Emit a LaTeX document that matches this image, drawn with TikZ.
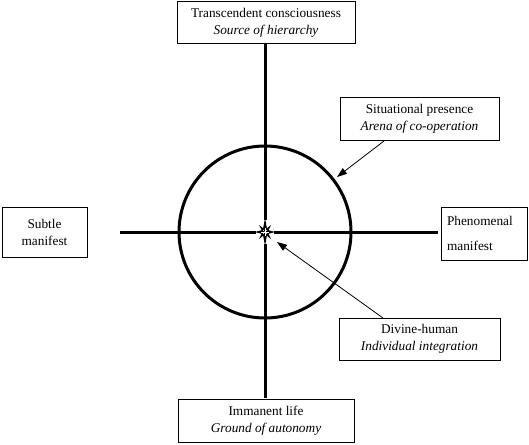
\documentclass[tikz,border=0pt]{standalone}
\usepackage{fontspec}
\setmainfont{Liberation Serif}
\usetikzlibrary{arrows.meta}
\begin{document}
\begin{tikzpicture}[x=1pt,y=-1pt,
  lbl/.style={draw,line width=1pt,inner sep=0pt,align=center,font=\fontsize{13.3}{17}\selectfont},
  axis/.style={line width=3pt},
  ptr/.style={line width=0.8pt,-{Triangle[length=10pt,width=7pt]}}]
\useasboundingbox (0,0) rectangle (529,444);
\fill[white] (0,0) rectangle (529,444);
\node[lbl,minimum width=178pt,minimum height=42pt] (top) at (266,23) {Transcendent consciousness\\\textit{Source of hierarchy}};
\node[lbl,minimum width=176pt,minimum height=43pt] (bot) at (266,420.5) {Immanent life\\\textit{Ground of autonomy}};
\node[lbl,minimum width=85pt,minimum height=50pt] (left) at (44.5,232) {Subtle\\manifest};
\node[lbl,minimum width=86pt,minimum height=53pt,align=left,text width=74pt,font=\fontsize{13.3}{25}\selectfont] (right) at (484,233.5) {Phenomenal\\manifest};
\node[lbl,minimum width=159pt,minimum height=43pt] (sit) at (419.5,118.5) {Situational presence\\\textit{Arena of co-operation}};
\node[lbl,minimum width=161pt,minimum height=42pt] (div) at (419.5,339) {Divine-human\\\textit{Individual integration}};
\coordinate (c) at (265,232);
\coordinate (vt) at (265,44);
\coordinate (vb) at (265,398);
\coordinate (hl) at (120,232);
\coordinate (hr) at (438,232);
\draw[axis] (vt) -- (vb);
\draw[axis] (hl) -- (hr);
\draw[axis] (c) circle[radius=86];
\coordinate (sa) at (384,141);
\coordinate (se) at (337,177);
\coordinate (da) at (383,318);
\coordinate (de) at (277,242);
\draw[ptr] (sa) -- (se);
\draw[ptr] (da) -- (de);
% center move glyph
\begin{scope}[shift={(c)}]
\fill[white] (-9,-12) rectangle (9,12);
\fill[black] (0,-14) -- (2,-3) -- (0,0) -- (-2,-3) -- cycle;
\fill[black] (0,14) -- (2,3) -- (0,0) -- (-2,3) -- cycle;
\fill[black] (-10,0) -- (-3,-2) -- (0,0) -- (-3,2) -- cycle;
\fill[black] (10,0) -- (3,-2) -- (0,0) -- (3,2) -- cycle;
\fill[black] (-6,-7) -- (-1,-3) -- (-3,-1) -- cycle;
\fill[black] (6,-7) -- (1,-3) -- (3,-1) -- cycle;
\fill[black] (-6,7) -- (-1,3) -- (-3,1) -- cycle;
\fill[black] (6,7) -- (1,3) -- (3,1) -- cycle;
\draw[white,line width=0.8pt] (-4,0) -- (4,0) (0,-4) -- (0,4);
\end{scope}
\end{tikzpicture}
\end{document}
